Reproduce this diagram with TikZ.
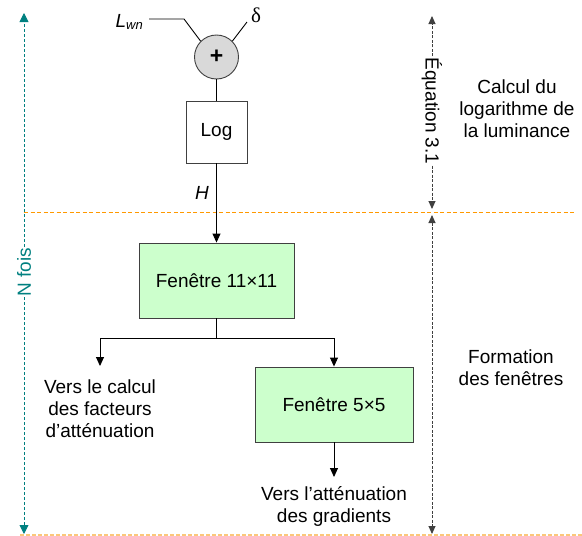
\documentclass[tikz,border=0pt]{standalone}
\usepackage{fontspec}
\setmainfont{Liberation Sans}
\newfontfamily\greekserif{Liberation Serif}
\usetikzlibrary{arrows.meta}
\definecolor{boxgreen}{HTML}{CCFFCC}
\definecolor{sumgray}{HTML}{D9D9D9}
\definecolor{tealc}{HTML}{008080}
\definecolor{orangec}{HTML}{FF9900}
\definecolor{orangelt}{HTML}{FBC77A}
\definecolor{dashgray}{HTML}{404040}
\begin{document}
\begin{tikzpicture}[x=1pt,y=-1pt,
  font=\fontsize{19}{22}\selectfont,
  wire/.style={line width=0.9pt, black},
  tipb/.style={-{Triangle[length=9pt,width=8pt]}},
  blockbox/.style={draw=dashgray, line width=0.9pt, inner sep=0pt, align=center},
  greenbox/.style={blockbox, fill=boxgreen, minimum height=75pt},
  txt/.style={align=center, inner sep=0pt},
  sep/.style={orangec, line width=0.9pt, dash pattern=on 4pt off 2.5pt},
  tealline/.style={tealc, line width=0.9pt, dash pattern=on 3pt off 2pt},
  blackdash/.style={dashgray, line width=0.9pt, dash pattern=on 3pt off 1.5pt},
  dashtips/.style={{Triangle[length=8pt,width=7pt]}-{Triangle[length=8pt,width=7pt]}}
]
\useasboundingbox (0,0) rectangle (582,536);

% separators
\coordinate (sepL) at (24,212);
\coordinate (sepR) at (574,212);
\draw[sep] (sepL) -- (sepR);
\coordinate (botL) at (20,535);
\coordinate (botR) at (582,535);
\draw[orangelt, line width=2pt, dash pattern=on 4pt off 2pt] (botL) -- (botR);

% sum node
\node[circle, draw=dashgray, line width=0.9pt, fill=sumgray, minimum size=44pt, inner sep=0pt] (sum) at (216.5,57) {\fontsize{23}{23}\selectfont\textbf{+}};
\node[anchor=base east, inner sep=0pt] (lwn) at (143,27) {\itshape L\raisebox{-0.12em}{\fontsize{13}{13}\selectfont wn}};
\coordinate (lwnstart) at (149,19);
\coordinate (lwnknee) at (184,19);
\draw[wire] (lwnstart) -- (lwnknee) -- (sum.135);
\coordinate (dstart) at (247,22);
\draw[wire] (dstart) -- (sum.45);
\node[txt] (delta) at (256,15) {\fontsize{21}{21}\selectfont\greekserif δ};

% log
\node[blockbox, minimum width=61pt, minimum height=62pt] (log) at (216.5,132) {Log};
\draw[wire] (sum) -- (log);

% windows
\node[greenbox, minimum width=155pt] (f11) at (216.5,280.5) {Fenêtre 11×11};
\draw[wire, tipb] (log) -- (f11);
\node[txt] (H) at (202,193) {\itshape H};

\node[greenbox, minimum width=158pt] (f5) at (334,404.5) {Fenêtre 5×5};
\coordinate (split) at (216.5,338);
\coordinate (leftk) at (100,338);
\coordinate (rightk) at (334,338);
\coordinate (lefttip) at (100,366);
\draw[wire] (f11) -- (split);
\draw[wire, tipb] (split) -- (leftk) -- (lefttip);
\draw[wire, tipb] (split) -- (rightk) -- (f5);
\node[txt] (vc) at (100,409) {Vers le calcul\\des facteurs\\d’atténuation};

\coordinate (f5tip) at (334,477);
\draw[wire, tipb] (f5) -- (f5tip);
\node[txt] (vg) at (334,506) {Vers l’atténuation\\des gradients};

% right annotations
\node[txt] (calc) at (517,109) {Calcul du\\logarithme de\\la luminance};
\node[txt] (form) at (511,368) {Formation\\des fenêtres};

\node[txt, rotate=-90, inner sep=1pt] (eq) at (432,111) {Équation 3.1};
\coordinate (eqtop) at (432,16);
\coordinate (eqbot) at (432,209);
\draw[blackdash, -{Triangle[length=8pt,width=7pt]}] (eq.west) -- (eqtop);
\draw[blackdash, -{Triangle[length=8pt,width=7pt]}] (eq.east) -- (eqbot);
\coordinate (ftop) at (432,215);
\coordinate (fbot) at (432,534);
\draw[blackdash, dashtips] (ftop) -- (fbot);

% N fois
\node[txt, rotate=90, text=tealc, inner sep=1pt] (nf) at (24,272) {N fois};
\coordinate (ntop) at (24,13);
\coordinate (nbot) at (24,534);
\draw[tealline, -{Triangle[length=9pt,width=9pt]}] (nf.east) -- (ntop);
\draw[tealline, -{Triangle[length=9pt,width=9pt]}] (nf.west) -- (nbot);
\end{tikzpicture}
\end{document}
